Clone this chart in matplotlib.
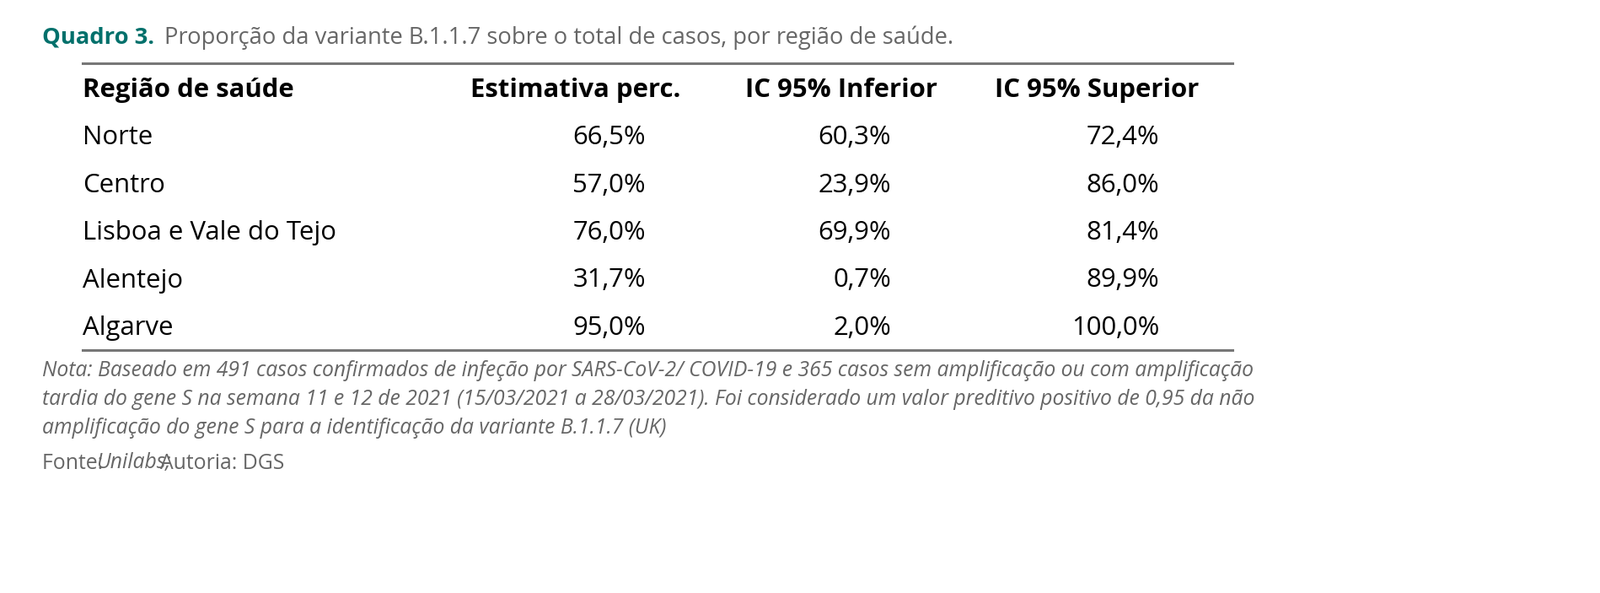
import matplotlib.pyplot as plt

# Dados do quadro
regioes = ['Norte', 'Centro', 'Lisboa e Vale do Tejo', 'Alentejo', 'Algarve']
estimativa = ['66,5%', '57,0%', '76,0%', '31,7%', '95,0%']
ic_inferior = ['60,3%', '23,9%', '69,9%', '0,7%', '2,0%']
ic_superior = ['72,4%', '86,0%', '81,4%', '89,9%', '100,0%']
cabecalhos = ['Região de saúde', 'Estimativa perc.', 'IC 95% Inferior', 'IC 95% Superior']

plt.rcParams['font.family'] = 'Open Sans'
fig = plt.figure(figsize=(18.99, 7.03), dpi=100)
ax = fig.add_axes([0, 0, 1, 1])
ax.set_xlim(0, 1899)
ax.set_ylim(703, 0)
ax.axis('off')

teal = '#00706b'
cinza = '#666666'

# Título
ax.text(50, 45, 'Quadro 3.', color=teal, fontsize=19.7, fontweight='bold', va='center')
ax.text(195, 45, 'Proporção da variante B.1.1.7 sobre o total de casos, por região de saúde.',
        color=cinza, fontsize=19.7, va='center')

# Linhas
ax.plot([98, 1462], [75, 75], color='#777777', lw=2.2)
ax.plot([98, 1462], [415, 415], color='#777777', lw=2.2)

# Cabeçalho
y_cab = 107
header_x = [98, 558, 884, 1180]
for x, h in zip(header_x, cabecalhos):
    ax.text(x, y_cab, h, fontsize=22.4, fontweight='bold', va='center', color='black')

# Linhas do quadro
y0, dy = 163, 56.5
col_right = [766, 1057, 1375]
for i, reg in enumerate(regioes):
    y = y0 + i * dy
    ax.text(98, y, reg, fontsize=22.4, va='center')
    for x, col in zip(col_right, [estimativa, ic_inferior, ic_superior]):
        ax.text(x, y, col[i], fontsize=22.4, va='center', ha='right')

# Nota e fonte
nota = ['Nota: Baseado em 491 casos confirmados de infeção por SARS-CoV-2/ COVID-19 e 365 casos sem amplificação ou com amplificação',
        'tardia do gene S na semana 11 e 12 de 2021 (15/03/2021 a 28/03/2021). Foi considerado um valor preditivo positivo de 0,95 da não',
        'amplificação do gene S para a identificação da variante B.1.1.7 (UK)']
for i, linha in enumerate(nota):
    ax.text(50, 440 + i * 34, linha, fontsize=17.8, style='italic', color=cinza, va='center')
ax.text(50, 549, 'Fonte: ', fontsize=17.8, color=cinza, va='center')
ax.text(114, 549, 'Unilabs;', fontsize=17.8, style='italic', color=cinza, va='center')
ax.text(190, 549, 'Autoria: DGS', fontsize=17.8, color=cinza, va='center')

fig.savefig('out.png', dpi=100, facecolor='white')
